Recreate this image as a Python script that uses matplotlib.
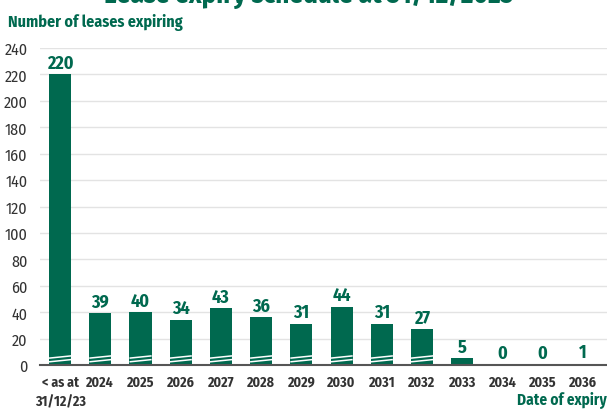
import matplotlib
matplotlib.use("Agg")
import matplotlib.pyplot as plt
from matplotlib import font_manager as fm
import numpy as np

categories = ["< as at\n31/12/23", "2024", "2025", "2026", "2027", "2028", "2029",
              "2030", "2031", "2032", "2033", "2034", "2035", "2036"]
values = [220, 39, 40, 34, 43, 36, 31, 44, 31, 27, 5, 0, 0, 1]
yticks = [0, 20, 40, 60, 80, 100, 120, 140, 160, 180, 200, 220, 240]

GREEN = "#00694F"
GRAY = "#333333"

names = {f.name for f in fm.fontManager.ttflist}
FONT = "DejaVu Sans"
for cand in ["Fira Sans Condensed", "Roboto Condensed", "PT Sans Narrow",
             "Archivo Narrow", "Open Sans Condensed", "Encode Sans Condensed"]:
    if cand in names:
        FONT = cand
        break
STRETCH = "condensed"

def tkw(**kw):
    kw.setdefault("family", FONT)
    kw.setdefault("fontstretch", STRETCH)
    return kw

fig = plt.figure(figsize=(6.07, 4.10), dpi=100)
ax = fig.add_axes([40/607, 1-366/410, 1-40/607, (366-49)/410])

x = np.arange(len(categories))
bw = 0.55
ax.bar(x, values, width=bw, color=GREEN, zorder=3)

# break marks
for xi, v in zip(x, values):
    if v >= 10:
        xl, xr = xi - bw/2, xi + bw/2
        ax.plot([xl, xr], [5.2, 6.9], color="white", lw=1.1, zorder=4, solid_capstyle="butt")
        ax.plot([xl, xr], [2.4, 4.1], color="white", lw=1.1, zorder=4, solid_capstyle="butt")

for xi, v in zip(x, values):
    ax.text(xi, v + 2.2, str(v), ha="center", va="bottom", color=GREEN,
            **tkw(fontsize=13, fontweight="bold"), zorder=5)

ax.set_xlim(-0.5, 13.6)
ax.set_ylim(0, 240)
ax.set_yticks(yticks)
ax.set_yticklabels([str(t) for t in yticks], color=GRAY, **tkw(fontsize=11.5))
ax.set_xticks(x)
ax.set_xticklabels(categories, color=GRAY, va="top", linespacing=1.45,
                   **tkw(fontsize=10, fontweight="bold"))
ax.tick_params(axis="both", length=0)
ax.tick_params(axis="y", pad=9)
ax.tick_params(axis="x", pad=7)
ax.grid(axis="y", color="#E3E3E3", lw=1.0, zorder=0)
ax.set_axisbelow(True)
for s in ["top", "right", "left"]:
    ax.spines[s].set_visible(False)
ax.spines["bottom"].set_color("#555555")
ax.spines["bottom"].set_linewidth(1.5)
ax.spines["bottom"].set_zorder(6)

fig.text(309/607, 1-3/410, "Lease expiry schedule at 31/12/2023", ha="center", va="baseline",
         color=GREEN, **tkw(fontsize=19.5, fontweight="bold"))
fig.text(8/607, 1-27/410, "Number of leases expiring", ha="left", va="baseline",
         color=GREEN, **tkw(fontsize=11.5, fontweight="bold"))
fig.text(517/607, 1-405/410, "Date of expiry", ha="left", va="baseline",
         color=GREEN, **tkw(fontsize=11, fontweight="bold"))

fig.savefig("out.png", dpi=100)
